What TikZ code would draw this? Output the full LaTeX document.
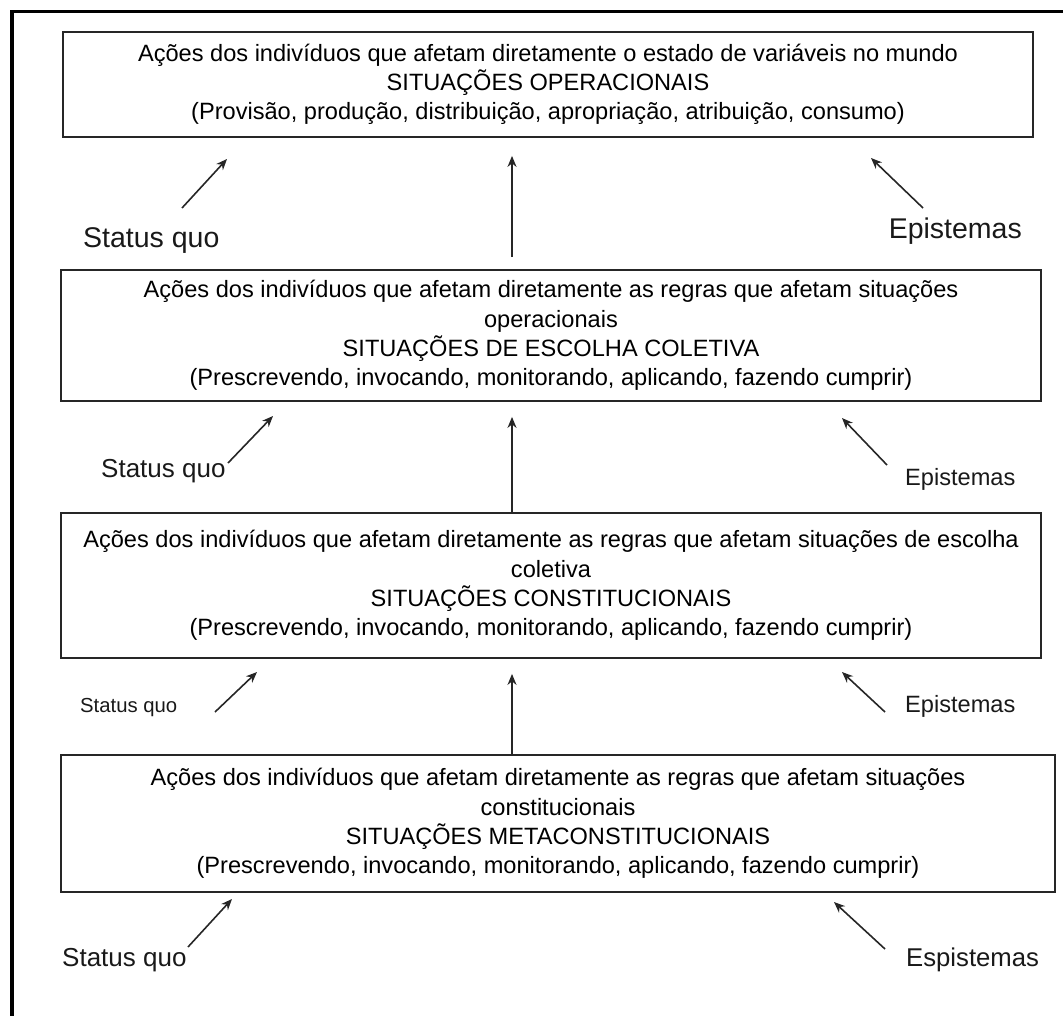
\documentclass[tikz,border=0pt]{standalone}
\usepackage{fontspec}
\setmainfont{Liberation Sans}
\usetikzlibrary{arrows.meta,calc}
\begin{document}
\begin{tikzpicture}[x=1pt,y=-1pt,
  box/.style={draw=black!85, line width=1.8pt, inner sep=0pt, align=center, font=\fontsize{23.6}{29.2}\selectfont},
  arr/.style={-{Stealth[length=11pt,width=9pt]}, line width=1.6pt, draw=black!85},
  lbl/.style={inner sep=0pt, text=black!90}]
\useasboundingbox (0,0) rectangle (1063,1015);
\clip (0,0) rectangle (1063,1015);
\draw[line width=3.5pt] (12,1030) -- (12,11.5) -- (1080,11.5);

\node[box, minimum width=970pt, minimum height=105pt] (b1) at (548,84.5)
 {Ações dos indivíduos que afetam diretamente o estado de variáveis no mundo\\SITUAÇÕES OPERACIONAIS\\(Provisão, produção, distribuição, apropriação, atribuição, consumo)};
\node[box, minimum width=980pt, minimum height=131pt] (b2) at (551,335.5)
 {Ações dos indivíduos que afetam diretamente as regras que afetam situações\\operacionais\\SITUAÇÕES DE ESCOLHA COLETIVA\\(Prescrevendo, invocando, monitorando, aplicando, fazendo cumprir)};
\node[box, minimum width=980pt, minimum height=145pt] (b3) at (551,585.5)
 {Ações dos indivíduos que afetam diretamente as regras que afetam situações de escolha\\coletiva\\SITUAÇÕES CONSTITUCIONAIS\\(Prescrevendo, invocando, monitorando, aplicando, fazendo cumprir)};
\node[box, minimum width=994pt, minimum height=137pt] (b4) at (558,823.5)
 {Ações dos indivíduos que afetam diretamente as regras que afetam situações\\constitucionais\\SITUAÇÕES METACONSTITUCIONAIS\\(Prescrevendo, invocando, monitorando, aplicando, fazendo cumprir)};

\coordinate (vx) at (512,0);
\draw[arr, shorten <=12pt, shorten >=18pt] (b2.north -| vx) -- (b1.south -| vx);
\draw[arr, shorten >=15pt] (b3.north -| vx) -- (b2.south -| vx);
\draw[arr, shorten >=15pt] (b4.north -| vx) -- (b3.south -| vx);

% labels
\node[lbl, anchor=base west, font=\fontsize{28.5}{33}\selectfont] (sq1) at (83,247) {Status quo};
\node[lbl, anchor=base east, font=\fontsize{28.5}{33}\selectfont] (ep1) at (1022,238) {Epistemas};
\node[lbl, anchor=base west, font=\fontsize{26}{30}\selectfont] (sq2) at (101,477) {Status quo};
\node[lbl, anchor=base west, font=\fontsize{23.6}{28}\selectfont] (ep2) at (905,485) {Epistemas};
\node[lbl, anchor=base west, font=\fontsize{20.3}{24}\selectfont] (sq3) at (80,712) {Status quo};
\node[lbl, anchor=base west, font=\fontsize{23.6}{28}\selectfont] (ep3) at (905,712) {Epistemas};
\node[lbl, anchor=base west, font=\fontsize{26}{31}\selectfont] (sq4) at (62,966) {Status quo};
\node[lbl, anchor=base west, font=\fontsize{25.7}{30}\selectfont] (ep4) at (906,966) {Espistemas};

% diagonal arrows
\coordinate (a1lt) at (182,208); \coordinate (a1lh) at (227,159);
\coordinate (a1rt) at (923,208); \coordinate (a1rh) at (871,158);
\coordinate (a2lt) at (228,463); \coordinate (a2lh) at (273,416);
\coordinate (a2rt) at (887,465); \coordinate (a2rh) at (842,418);
\coordinate (a3lt) at (215,712); \coordinate (a3lh) at (257,672);
\coordinate (a3rt) at (885,712); \coordinate (a3rh) at (842,672);
\coordinate (a4lt) at (188,947); \coordinate (a4lh) at (232,899);
\coordinate (a4rt) at (885,949); \coordinate (a4rh) at (834,902);
\foreach \s in {1,2,3,4}{
  \draw[arr] (a\s lt) -- (a\s lh);
  \draw[arr] (a\s rt) -- (a\s rh);
}
\end{tikzpicture}
\end{document}
